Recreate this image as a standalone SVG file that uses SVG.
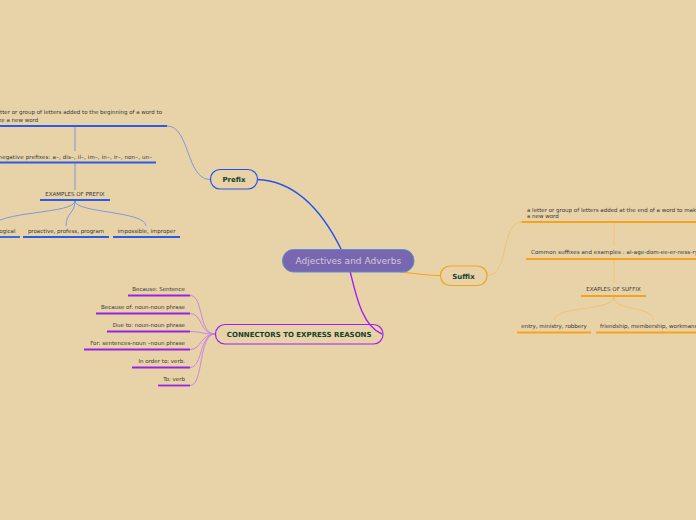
<svg xmlns="http://www.w3.org/2000/svg" width="696" height="520" viewBox="0 0 696 520">
<style>
.t{font-family:"DejaVu Sans",Verdana,sans-serif;font-size:5.5px;fill:#363636}
.nt{font-family:"DejaVu Sans",Verdana,sans-serif;font-size:7px;font-weight:bold;fill:#16402a;text-anchor:middle}
.c{fill:none}
.pb{stroke:#2a5ce8;stroke-width:1.8}
.pl{stroke:#7391e0;stroke-width:0.9;fill:none}
.ob{stroke:#f5a31f;stroke-width:1.8}
.ol{stroke:#f4bd6c;stroke-width:0.9;fill:none}
.vb{stroke:#9a22e6;stroke-width:1.8}
.vl{stroke:#c67de6;stroke-width:0.9;fill:none}
</style>
<rect width="696" height="520" fill="#E8D3A8"/>
<g id="connectors">
<path d="M257,179.5 C300,181 326,218 342,251" stroke="#2452f0" stroke-width="1.4" fill="none"/>
<path d="M392,270.5 C415,274 425,275.5 440,275.5" stroke="#f5a31f" stroke-width="1.2" fill="none"/>
<path d="M350,271 C356,295 362,326 382,334" stroke="#a020f0" stroke-width="1.4" fill="none"/>
<path class="pl" d="M167,126 C190,126 186,179.5 210,179.5"/>
<path class="pl" d="M75,127 V151"/>
<path class="pl" d="M75,163 V190"/>
<path class="pl" d="M75,201 C75,214 -5,211 -8,227"/>
<path class="pl" d="M75,201 C75,213 66,213 66,226"/>
<path class="pl" d="M75,201 C75,213 146,211 146,226"/>
<path class="ol" d="M487,275.5 C510,275.5 500,222 522,222"/>
<path class="ol" d="M614,223 V246"/>
<path class="ol" d="M614,260 V283"/>
<path class="ol" d="M614,297 C614,311 554,306 554,320"/>
<path class="ol" d="M614,297 C614,311 653,306 653,320"/>
<path class="vl" d="M190,295.5 C204,295.5 198,334 215,334"/>
<path class="vl" d="M190,313.5 C203,313.5 199,334 215,334"/>
<path class="vl" d="M190,331.5 C202,331.5 201,334 215,334"/>
<path class="vl" d="M190,349.5 C202,349.5 200,334 215,334"/>
<path class="vl" d="M190,367.5 C203,367.5 199,334 215,334"/>
<path class="vl" d="M190,385.5 C204,385.5 198,334 215,334"/>
</g>
<g id="central">
<rect x="282.5" y="249.5" width="131.5" height="22.5" rx="11" fill="#7966B0" stroke="#5a90cc" stroke-width="1"/>
<text x="348.3" y="264" font-family="DejaVu Sans,Verdana,sans-serif" font-size="9" fill="#cfcbd8" text-anchor="middle">Adjectives and Adverbs</text>
</g>
<g id="prefix">
<rect x="210.5" y="169.5" width="47" height="19.5" rx="9.5" fill="none" stroke="#2452f0" stroke-width="1.2"/>
<text class="nt" x="234" y="182">Prefix</text>
</g>
<g id="prefix-def">
<text class="t" x="-10.4" y="114" textLength="172.4">A letter or group of letters added to the beginning of a word to</text>
<text class="t" x="-10.4" y="122">make a new word</text>
<path class="pb c" d="M-5,126 H167"/>
</g>
<g id="prefix-neg">
<text class="t" x="-1.5" y="159" textLength="153.5">negative prefixes: a–, dis–, il–, im–, in–, ir–, non–, un–</text>
<path class="pb c" d="M-5,162.5 H156"/>
</g>
<g id="prefix-examples">
<text class="t" x="75" y="196" text-anchor="middle">EXAMPLES OF PREFIX</text>
<path class="pb c" d="M40,200 H110"/>
</g>
<g id="prefix-ex1">
<text class="t" x="15.5" y="233" text-anchor="end">illogical</text>
<path class="pb c" d="M-5,237 H20"/>
</g>
<g id="prefix-ex2">
<text class="t" x="66" y="233" text-anchor="middle">proactive, profess, program</text>
<path class="pb c" d="M23,237 H109"/>
</g>
<g id="prefix-ex3">
<text class="t" x="146.5" y="233" text-anchor="middle">impossible, improper</text>
<path class="pb c" d="M113,237 H180"/>
</g>
<g id="suffix">
<rect x="440.5" y="266" width="46.5" height="19.5" rx="9.5" fill="none" stroke="#f5a31f" stroke-width="1.2"/>
<text class="nt" x="463.5" y="278.5">Suffix</text>
</g>
<g id="suffix-def">
<text class="t" x="527" y="211.5">a letter or group of letters added at the end of a word to make</text>
<text class="t" x="527" y="217.5">a new word</text>
<path class="ob c" d="M521.5,222 H700"/>
</g>
<g id="suffix-common">
<text class="t" x="531" y="254" textLength="167">Common suffixes and examples : al-age-dom-ee-er-ness-ry</text>
<path class="ob c" d="M526,259 H700"/>
</g>
<g id="suffix-examples">
<text class="t" x="613.5" y="291" text-anchor="middle">EXAPLES OF SUFFIX</text>
<path class="ob c" d="M581,296 H646"/>
</g>
<g id="suffix-ex1">
<text class="t" x="554" y="328" text-anchor="middle">entry, ministry, robbery</text>
<path class="ob c" d="M517,332.5 H591"/>
</g>
<g id="suffix-ex2">
<text class="t" x="600" y="328">friendship, membership, workmanship</text>
<path class="ob c" d="M596,332.5 H700"/>
</g>
<g id="reasons">
<rect x="215.5" y="324.5" width="167.5" height="19.5" rx="9.5" fill="none" stroke="#a020f0" stroke-width="1.2"/>
<text class="nt" x="299.2" y="336.8">CONNECTORS TO EXPRESS REASONS</text>
</g>
<g id="r1"><text class="t" x="185" y="291" text-anchor="end">Because: Sentence</text><path class="vb c" d="M128,295.5 H190"/></g>
<g id="r2"><text class="t" x="185" y="309" text-anchor="end">Because of: noun-noun phrase</text><path class="vb c" d="M96,313.5 H190"/></g>
<g id="r3"><text class="t" x="185" y="327" text-anchor="end">Due to: noun-noun phrase</text><path class="vb c" d="M107,331.5 H190"/></g>
<g id="r4"><text class="t" x="185" y="345" text-anchor="end">For: sentences-noun –noun phrase</text><path class="vb c" d="M84,349.5 H190"/></g>
<g id="r5"><text class="t" x="185" y="363" text-anchor="end">In order to: verb.</text><path class="vb c" d="M132,367.5 H190"/></g>
<g id="r6"><text class="t" x="185" y="381" text-anchor="end">To: verb</text><path class="vb c" d="M158,385.5 H190"/></g>
</svg>
